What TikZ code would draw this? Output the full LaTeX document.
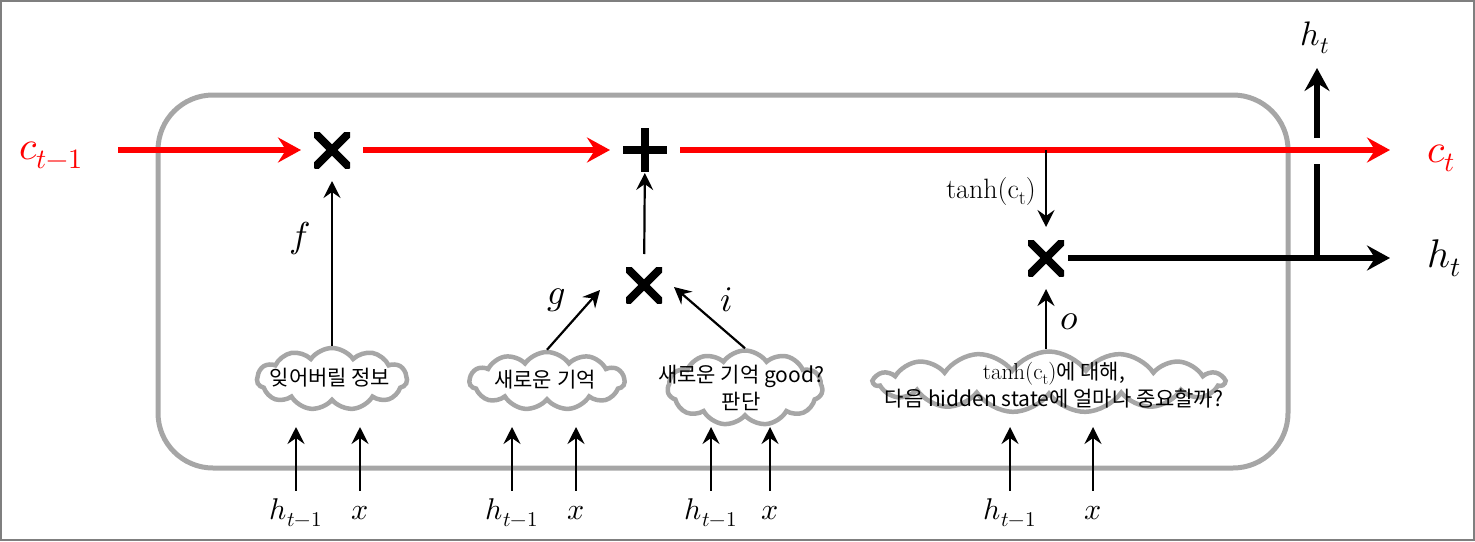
\documentclass[tikz,border=0pt]{standalone}
\usepackage{fontspec}
\usepackage{unicode-math}
\setmathfont{Latin Modern Math}
\newfontfamily\krfont{Noto Sans CJK KR}
\usetikzlibrary{arrows.meta,shapes.symbols}
\definecolor{cellgray}{HTML}{A6A6A6}
\definecolor{framegray}{HTML}{7F7F7F}
\definecolor{cellred}{HTML}{FF0000}
\newcommand\tanhct[1]{{\rmfamily\fontsize{#1}{#1}\selectfont tanh(c\raisebox{-0.22em}{\fontsize{0.7\dimexpr#1pt\relax}{1pt}\selectfont t})}}
\tikzset{
  cellbox/.style={draw=cellgray, line width=5pt, rounded corners=55pt, minimum width=1130pt, minimum height=373pt, inner sep=0pt},
  redflow/.style={cellred, line width=5.5pt, -{Stealth[length=23pt,width=25pt,inset=8pt]}},
  hflow/.style={line width=5.5pt, -{Stealth[length=23pt,width=25pt,inset=8pt]}},
  hline/.style={line width=5.5pt},
  gateflow/.style={line width=2.2pt, -{Stealth[length=17pt,width=17pt,inset=6pt]}},
  mulop/.style={minimum size=36pt, inner sep=0pt, outer sep=13pt, fill=white,
    path picture={\draw[line width=8pt] (path picture bounding box.north west) -- (path picture bounding box.south east)
      (path picture bounding box.north east) -- (path picture bounding box.south west);}},
  plusop/.style={minimum size=44pt, inner sep=0pt, outer sep=13pt, fill=white,
    path picture={\draw[line width=8pt] (path picture bounding box.west) -- (path picture bounding box.east)
      (path picture bounding box.north) -- (path picture bounding box.south);}},
  gatecloud/.style={cloud, cloud puffs=11, cloud puff arc=110, cloud ignores aspect, draw=cellgray, line width=4.5pt, fill=white, inner sep=0pt},
  cloudtext/.style={font=\krfont\fontsize{21}{27}\selectfont, align=center, inner sep=0pt},
  statelabel/.style={font=\fontsize{40}{44}\selectfont, anchor=base, inner sep=0pt},
  gatelabel/.style={font=\fontsize{36}{40}\selectfont, inner sep=0pt},
  inlabel/.style={font=\fontsize{30}{34}\selectfont, anchor=base, text height=25pt, text depth=8pt, inner sep=3pt}
}
\begin{document}
\begin{tikzpicture}[x=1pt,y=-1pt]
  \useasboundingbox (0,0) rectangle (1475,541);
  \draw[framegray, line width=2pt] (1,1) rectangle (1474,540);
  \node[cellbox] (cell) at (723,281.5) {};

  \node[statelabel, cellred] (cprev) at (51,159) {$c_{t-1}$};
  \node[statelabel, cellred] (cnext) at (1441,162) {$c_t$};
  \node[statelabel] (hout) at (1444,267) {$h_t$};
  \node[statelabel, font=\fontsize{34}{38}\selectfont] (htop) at (1315,45) {$h_t$};

  \coordinate (cstart) at (118,150);
  \coordinate (cend) at (1390,150);
  \coordinate (hend) at (1390,258);
  \coordinate (hsplit) at (1317,258);
  \coordinate (gapbot) at (1317,164);
  \coordinate (gaptop) at (1317,138);
  \coordinate (hpeak) at (1317,68);
  \coordinate (ctap) at (1046,150);
  \coordinate (gtip) at (600,290);
  \coordinate (itip) at (674,287);
  \coordinate (tipline) at (0,427);

  \node[mulop] (mul1) at (332,150) {};
  \node[plusop] (plus) at (645,150) {};
  \node[mulop] (mul2) at (644,285) {};
  \node[mulop] (mul3) at (1046,258) {};

  \node[gatecloud, minimum width=150pt, minimum height=62pt] (forget) at (332,379) {};
  \node[cloudtext] (forgettxt) at (330,378) {잊어버릴 정보};
  \node[gatecloud, minimum width=155pt, minimum height=58pt] (new) at (547,381) {};
  \node[cloudtext] (newtxt) at (545,380) {새로운 기억};
  \node[gatecloud, minimum width=155pt, minimum height=75pt] (judge) at (745,388) {};
  \node[cloudtext] (judgetxt) at (741,388) {새로운 기억 good?\\판단};
  \node[gatecloud, cloud puffs=15, minimum width=350pt, minimum height=61pt] (state) at (1049,382) {};
  \node[align=center, inner sep=0pt, font=\fontsize{21}{27}\selectfont] (statetxt) at (1054,385)
    {\tanhct{23}{\krfont 에 대해,}\\{\krfont 다음 hidden state에 얼마나 중요할까?}};

  \node[gatelabel] (flab) at (300,238) {$f$};
  \node[gatelabel] (glab) at (557,300) {$g$};
  \node[gatelabel] (ilab) at (727,300) {$i$};
  \node[gatelabel] (olab) at (1069,322) {$o$};
  \node[anchor=base, inner sep=0pt] (tanhlab) at (991,198) {\tanhct{28}};

  \node[inlabel] (h1) at (296,519) {$h_{t-1}$};
  \node[inlabel] (x1) at (360,519) {$x$};
  \node[inlabel] (h2) at (512,519) {$h_{t-1}$};
  \node[inlabel] (x2) at (576,519) {$x$};
  \node[inlabel] (h3) at (711,519) {$h_{t-1}$};
  \node[inlabel] (x3) at (770,519) {$x$};
  \node[inlabel] (h4) at (1010,519) {$h_{t-1}$};
  \node[inlabel] (x4) at (1093,519) {$x$};

  \draw[redflow] (cstart) -- (mul1);
  \draw[redflow] (mul1) -- (plus);
  \draw[redflow] (plus) -- (cend);
  \draw[hflow, shorten <=-9pt] (mul3) -- (hend);
  \draw[hline] (hsplit) -- (gapbot);
  \draw[hflow] (gaptop) -- (hpeak);

  \draw[gateflow] (forget) -- (mul1);
  \draw[gateflow, shorten >=-12pt] (mul2) -- (plus);
  \draw[gateflow] (new.north) -- (gtip);
  \draw[gateflow] (judge.north) -- (itip);
  \draw[gateflow] (ctap) -- (mul3);
  \draw[gateflow] (mul3.south |- state.north) -- (mul3);

  \draw[gateflow] (h1.north) -- (h1.north |- tipline);
  \draw[gateflow] (x1.north) -- (x1.north |- tipline);
  \draw[gateflow] (h2.north) -- (h2.north |- tipline);
  \draw[gateflow] (x2.north) -- (x2.north |- tipline);
  \draw[gateflow] (h3.north) -- (h3.north |- tipline);
  \draw[gateflow] (x3.north) -- (x3.north |- tipline);
  \draw[gateflow] (h4.north) -- (h4.north |- tipline);
  \draw[gateflow] (x4.north) -- (x4.north |- tipline);
\end{tikzpicture}
\end{document}
